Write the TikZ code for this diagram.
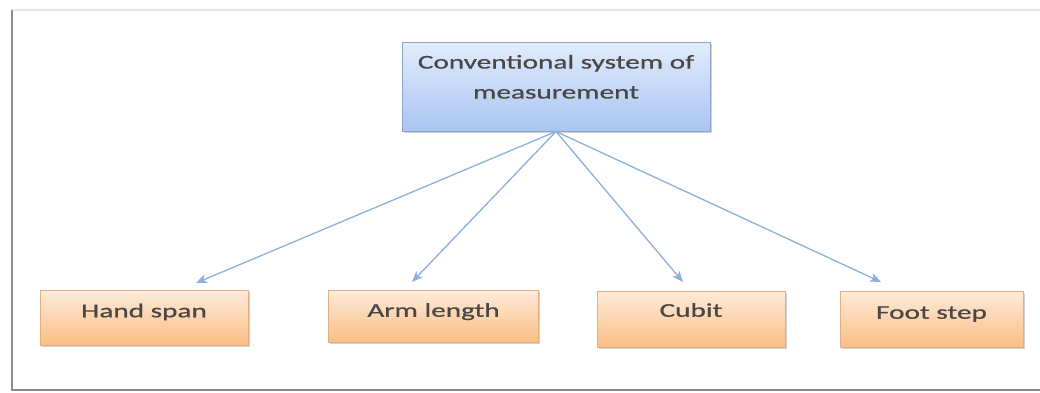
\documentclass[tikz,border=0pt]{standalone}
\usepackage{fontspec}
\setmainfont{Carlito}[FakeStretch=1.5,FakeBold=0.8]
\usetikzlibrary{shadows,arrows.meta}
\definecolor{txt}{HTML}{4A4646}
\definecolor{bluetop}{HTML}{E2ECFB}
\definecolor{bluebot}{HTML}{A9C5F3}
\definecolor{blueedge}{HTML}{8FA3C4}
\definecolor{orgtop}{HTML}{FDEBDA}
\definecolor{orgbot}{HTML}{FBBE84}
\definecolor{orgedge}{HTML}{E2AE85}
\definecolor{arrowc}{HTML}{8DB0DA}
\tikzset{
  topbox/.style={draw=blueedge, line width=1pt, top color=bluetop, bottom color=bluebot,
    drop shadow={shadow xshift=1.5pt, shadow yshift=-2pt, opacity=0.35},
    align=center, text=txt, font=\fontsize{19.5}{30}\selectfont, inner sep=0pt},
  leafbox/.style={draw=orgedge, line width=1pt, top color=orgtop, bottom color=orgbot,
    drop shadow={shadow xshift=1.5pt, shadow yshift=-2pt, opacity=0.35},
    text=txt, font=\fontsize{19.5}{22}\selectfont, inner sep=0pt},
  conn/.style={draw=arrowc, line width=1.3pt, -{Stealth[length=11pt,width=9pt,inset=3pt]}}
}
\begin{document}
\begin{tikzpicture}[x=1pt,y=-1pt]
\useasboundingbox[fill=white] (0,0) rectangle (1040,392);
% frame
\draw[draw=black!10, line width=2pt] (12,10) -- (1040,10);
\draw[draw=black!45, line width=2.5pt] (12,10) -- (12,390) -- (1040,390);
% nodes
\node[topbox, minimum width=308pt, minimum height=89pt] (top) at (556,86.5)
  {\raisebox{36pt}{\parbox{300pt}{\centering Conventional system of\\measurement}}};
\node[leafbox, minimum width=208pt, minimum height=55pt] (hs) at (144,317.5) {\raisebox{14pt}{Hand span}};
\node[leafbox, minimum width=210pt, minimum height=52pt] (al) at (433.5,316) {\raisebox{12pt}{Arm length}};
\node[leafbox, minimum width=188pt, minimum height=56pt] (cu) at (691,319) {\raisebox{18pt}{Cubit}};
\node[leafbox, minimum width=183pt, minimum height=56pt] (fs) at (931.5,319) {\raisebox{13pt}{Foot step}};
% arrow ends
\coordinate (hsend) at (196,283);
\coordinate (alend) at (412,282);
\coordinate (cuend) at (683,282);
\coordinate (fsend) at (881,282);
\draw[conn] (top.south) -- (hsend);
\draw[conn] (top.south) -- (alend);
\draw[conn] (top.south) -- (cuend);
\draw[conn] (top.south) -- (fsend);
\end{tikzpicture}
\end{document}
